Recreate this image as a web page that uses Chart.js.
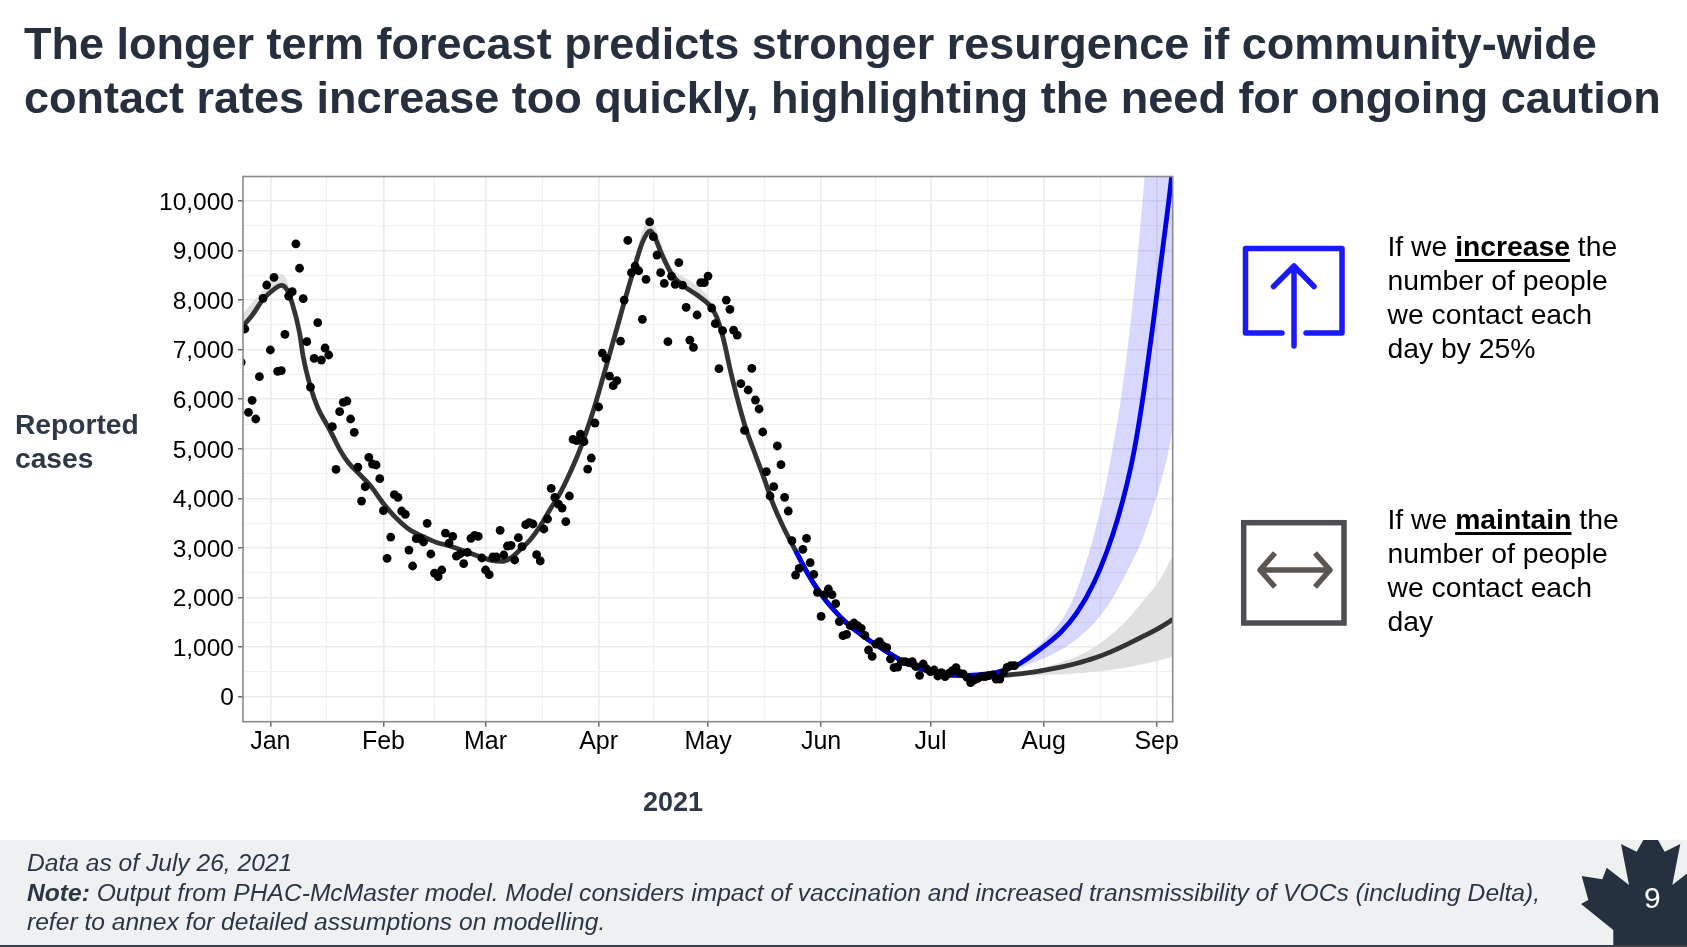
<!DOCTYPE html>
<html><head><meta charset="utf-8">
<script src="https://cdn.jsdelivr.net/npm/chart.js@4"></script>
<style>
html,body{margin:0;padding:0;background:#fff;width:1687px;height:947px;overflow:hidden;font-family:"Liberation Sans",Arial,sans-serif}
#c{position:absolute;left:0;top:0;width:1687px;height:947px}
.t{position:absolute;white-space:pre}
#title{left:24px;top:17px;font-weight:700;font-size:45px;line-height:54px;color:#252f3d}
#ylab{left:15px;top:407px;font-weight:700;font-size:28.2px;line-height:34px;color:#2e3846}
#xlab{left:643px;top:786px;font-weight:700;font-size:27px;line-height:32px;color:#2e3846}
.note{left:1387.5px;font-size:28.3px;line-height:34px;color:#000}
.note u{font-weight:700;text-decoration-thickness:2.5px;text-underline-offset:3px}
#foot{position:absolute;left:0;top:840px;width:1687px;height:105px;background:#eef0f2}
#bar{position:absolute;left:0;top:945px;width:1687px;height:2px;background:#3c4148}
#ft{left:27px;top:848px;font-style:italic;font-size:24.6px;line-height:29.5px;color:#2b3644}
#ft b{font-weight:700}
#pg{left:1644px;top:880px;font-size:30px;line-height:36px;color:#fff}
svg{position:absolute;left:0;top:0}
</style></head><body>
<div id="foot"></div><div id="bar"></div>
<canvas id="c" width="1687" height="947"></canvas>
<div class="t" id="title">The longer term forecast predicts stronger resurgence if community-wide
contact rates increase too quickly, highlighting the need for ongoing caution</div>
<div class="t" id="ylab">Reported
cases</div>
<div class="t" id="xlab">2021</div>
<div class="t note" style="top:229px">If we <u>increase</u> the
number of people
we contact each
day by 25%</div>
<div class="t note" style="top:502px">If we <u>maintain</u> the
number of people
we contact each
day</div>
<svg width="1687" height="947" viewBox="0 0 1687 947">
<path d="M1282 333H1245.5V248.5H1342V333H1306" fill="none" stroke="#1a1aff" stroke-width="5.5" stroke-linecap="round" stroke-linejoin="round"/>
<path d="M1294 346V266M1273.5 286.5L1294 266L1314 286.5" fill="none" stroke="#1a1aff" stroke-width="5.5" stroke-linecap="round" stroke-linejoin="round"/>
<rect x="1243.7" y="522.7" width="100.3" height="100.3" fill="none" stroke="#514d55" stroke-width="5.5"/>
<path d="M1261 570H1329M1275 553L1260 570L1275 587M1315 553L1330 570L1315 587" fill="none" stroke="#5c5652" stroke-width="5.5" stroke-linejoin="round"/>
<path d="M1643.3 840L1636.7 851.7L1621 844L1629 885L1606.7 867.7L1602.3 879.3L1581.7 876L1588.3 900L1581 904L1613.3 930V945H1688V868L1694.6 867.7L1672.3 885L1680.3 844L1664.7 851.7L1658 840Z" fill="#263140"/>
</svg>
<div class="t" id="ft">Data as of July 26, 2021
<b>Note:</b> Output from PHAC-McMaster model. Model considers impact of vaccination and increased transmissibility of VOCs (including Delta),
refer to annex for detailed assumptions on modelling.</div>
<div class="t" id="pg">9</div>
<script>
// x values are days since 1 January 2021
const monthDays=[0,31,59,90,120,151,181,212,243];
const monthLabels=['Jan','Feb','Mar','Apr','May','Jun','Jul','Aug','Sep'];
const minorMonthDays=[15.5,45,74.5,105,135.5,166,196.5,227.5];
const yLabelTicks=[0,1000,2000,3000,4000,5000,6000,7000,8000,9000,10000];
const yMinorTicks=[500,1500,2500,3500,4500,5500,6500,7500,8500,9500];

const caseStartDay=-8;
const caseValues=[6745,7418,5737,5978,5602,6456,8036,8305,6994,8460,6563,6577,7310,8083,8170,9133,8643,8030,7162,6247,6825,7545,6792,7034,6893,5447,
4587,5750,5938,5965,5602,5333,4633,3947,4236,4828,4694,4674,4398,3753,2791,3221,4075,4021,3746,3679,2959,2637,3188,3195,3121,3497,2879,2495,2421,2556,
3302,3100,3234,2838,2879,2683,2912,3195,3255,3234,2798,2556,2462,2818,2818,3356,2859,3040,3053,2758,3208,3027,3470,3511,3484,2865,2738,3383,3585,4203,
4021,3887,3806,3531,4049,5191,5164,5299,5144,4593,4815,5521,5844,6933,6825,6469,6274,6375,7175,8002,9206,8553,8688,8593,7612,8419,9577,9281,8910,8553,
8338,7163,8480,8318,8755,8304,7854,7195,7047,7700,8352,8352,8486,7841,7525,6617,7384,8002,7814,7397,7296,6314,5373,6187,6624,5985,5804,5340,4540,4049,
4237,5058,4681,4022,3746,3148,2455,2590,2973,3195,2704,2469,2106,1621,2058,2173,2058,1877,1514,1231,1258,1433,1487,1433,1379,1238,942,814,1063,1110,
1023,989,761,585,599,707,707,687,707,606,431,660,559,505,539,418,485,404,471,525,585,471,458,391,284,338,371,404,404,424,438,357,357,485,592,626,626];

const fitDays=[-7.5,-5,-2,0,2,3,4.5,6,8,9,11,13,15.4,17,19,21.3,24,27.3,31,34.6,38.3,42,45.6,49.2,52.9,57.4,61,63.4,65.7,68.4,71.2,73.9,76.6,79.4,81.3,85,88.6,92.3,95.9,99.6,101.9,103.3,104.2,105.1,107.4,110.2,113.3,117,120.6,122.4,124.3,126.1,127.9,130.2,132.5,135,138,140.8,144];
const fitValues=[7480,7693,8018,8160,8270,8298,8217,7935,7345,6860,6250,5830,5500,5280,4990,4730,4520,4270,3900,3597,3362,3228,3113,3040,2946,2825,2744,2730,2791,2959,3161,3430,3766,4102,4380,5011,5784,6724,7665,8607,9145,9348,9395,9315,8910,8506,8285,8103,7881,7652,7195,6590,6052,5447,4977,4480,3860,3400,2946];

const janBandDays=[-7.5,-5,-2,0,2,3,4.5,6,7];
const janBandUpper=[7720,7950,8200,8390,8500,8530,8400,8000,7600];
const janBandLower=[7400,7620,7960,8110,8220,8250,8150,7880,7550];
const aprBandDays=[98,100,102,103.3,104.2,105.1,107.4,110,113.3,117,120.6,122.4];
const aprBandUpper=[8380,8850,9400,9620,9680,9560,9100,8660,8470,8290,8000,7680];
const aprBandLower=[8200,8550,9100,9300,9340,9260,8860,8440,8240,8050,7830,7620];

const maintainDays=[144,147.2,150.8,154.5,158.1,161.8,165.4,169,172.7,176.4,181,185.5,191,196.5,201,207.5,212,216.7,221.2,225.8,230.4,234.9,239.5,244.1,247.5];
const maintainValues=[2946,2500,2085,1749,1480,1265,1076,908,745,619,505,440,431,425,431,480,530,595,675,775,905,1055,1225,1405,1560];
const maintainBandDays=[201,207.5,212,216.7,221.2,225.8,230.4,234.9,239.5,244.1,247.5];
const maintainUpper=[440,510,592,690,815,1000,1245,1550,1950,2390,2858];
const maintainLower=[418,424,438,451,471,505,538,592,660,740,808];

const increaseDays=[144,147.2,150.8,154.5,158.1,161.8,165.4,169,172.7,176.4,181,185.5,191,196.5,201,204.8,208,212,216.7,221.2,225.8,229.5,232.2,234.9,236.8,239,241.8,243.8,245.9,247.1,247.5];
const increaseValues=[2946,2500,2085,1749,1480,1265,1076,908,745,619,505,440,431,460,530,640,790,1010,1300,1700,2300,2960,3560,4300,4950,5917,7400,8550,9750,10490,10800];
const incUpperDays=[201,204.8,207.5,212.1,216.7,220.3,223,225.8,228.5,230.8,233.1,235.4,237.7,239.7,247.5];
const incUpperValues=[550,690,850,1140,1520,2000,2560,3250,4080,4950,5950,7250,8800,10490,17500];
const incLowerDays=[201,204.8,207.5,212,216.7,221.2,225.8,230.4,234.9,238.6,241.3,244.1,245.8,247.5];
const incLowerValues=[540,572,639,773,942,1170,1480,1930,2530,3090,3640,4320,4800,5447];

const pts=(xs,ys)=>xs.map((x,i)=>({x,y:ys[i]}));
const casePts=caseValues.map((y,i)=>({x:caseStartDay+i,y}));
const BLUE_BAND='rgba(40,40,255,0.19)',GREY_BAND='#e0e0e0';
function band(upper,lower,color,order){
  const base={type:'line',borderWidth:0,borderColor:'transparent',pointRadius:0,cubicInterpolationMode:'monotone',clip:0};
  return [
   {...base,data:upper,backgroundColor:color,fill:{target:'+1'},order},
   {...base,data:lower,fill:false,order:order+1}
  ];
}
function curve(xs,ys,color,order){
  return {type:'line',data:pts(xs,ys),borderColor:color,borderWidth:4.8,pointRadius:0,cubicInterpolationMode:'monotone',fill:false,order,clip:0,borderCapStyle:'butt'};
}
const xTicks=[...monthDays,...minorMonthDays].sort((a,b)=>a-b);
const yTicks=[...yLabelTicks,...yMinorTicks].sort((a,b)=>a-b);
const isXMajor=v=>monthDays.includes(v), isYMajor=v=>yLabelTicks.includes(v);
const frame={id:'frame',afterDatasetsDraw(ch){
  const a=ch.chartArea,c=ch.ctx;c.save();c.strokeStyle='#8a8a8a';c.lineWidth=1.6;
  c.strokeRect(a.left,a.top,a.right-a.left,a.bottom-a.top);c.restore();}};
new Chart(document.getElementById('c'),{
  type:'scatter',
  plugins:[frame],
  data:{datasets:[
    ...band(pts(janBandDays,janBandUpper),pts(janBandDays,janBandLower),GREY_BAND,40),
    ...band(pts(aprBandDays,aprBandUpper),pts(aprBandDays,aprBandLower),GREY_BAND,36),
    ...band(pts(incUpperDays,incUpperValues),pts(incLowerDays,incLowerValues),BLUE_BAND,32),
    ...band(pts(maintainBandDays,maintainUpper),pts(maintainBandDays,maintainLower),GREY_BAND,30),
    curve(fitDays,fitValues,'#333333',12),
    curve(maintainDays,maintainValues,'#333333',11),
    curve(increaseDays,increaseValues,'#0000e6',10),
    {type:'scatter',data:casePts,backgroundColor:'#000',borderWidth:0,pointRadius:4.4,pointHoverRadius:4.4,showLine:false,order:1,clip:0}
  ]},
  options:{
    responsive:false,animation:false,devicePixelRatio:1,
    layout:{padding:{left:0,top:176.5,right:514.3,bottom:0}},
    plugins:{legend:{display:false},tooltip:{enabled:false}},
    scales:{
      x:{type:'linear',min:-7.5,max:247.4,
        afterBuildTicks(s){s.ticks=xTicks.map(value=>({value}));},
        afterFit(s){s.height=225.3;},
        grid:{color:c=>c.tick&&isXMajor(c.tick.value)?'#ebebeb':'#f1f1f1',lineWidth:c=>c.tick&&isXMajor(c.tick.value)?1.6:1.1,
          tickColor:c=>c.tick&&isXMajor(c.tick.value)?'#444':'transparent',tickLength:5,tickWidth:1.2},
        border:{display:false},
        ticks:{autoSkip:false,maxRotation:0,padding:0,color:'#000',font:{family:'"Liberation Sans"',size:25},
          callback(v){const i=monthDays.indexOf(v);return i<0?'':monthLabels[i];}}
      },
      y:{type:'linear',min:-504,max:10494,
        afterBuildTicks(s){s.ticks=yTicks.map(value=>({value}));},
        afterFit(s){s.width=243;},
        grid:{color:c=>c.tick&&isYMajor(c.tick.value)?'#ebebeb':'#f1f1f1',lineWidth:c=>c.tick&&isYMajor(c.tick.value)?1.6:1.1,
          tickColor:c=>c.tick&&isYMajor(c.tick.value)?'#444':'transparent',tickLength:5,tickWidth:1.2},
        border:{display:false},
        ticks:{autoSkip:false,padding:4,labelOffset:2,color:'#000',font:{family:'"Liberation Sans"',size:24.5},
          callback(v){return isYMajor(v)?v.toLocaleString('en-US'):'';}}
      }
    }
  }
});
</script>
</body></html>
